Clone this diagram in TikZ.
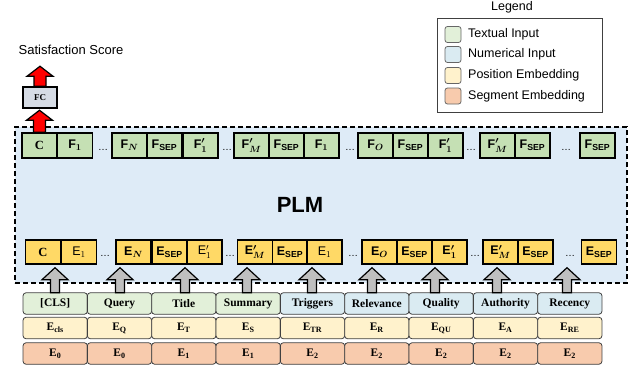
\documentclass[tikz,border=0pt]{standalone}
\usepackage{amsmath}
\usepackage{fontspec}
\setmainfont{Liberation Sans}
\newfontfamily\boxfont{Liberation Serif}
\usetikzlibrary{arrows.meta}
\definecolor{textgreen}{HTML}{E2F0D9}
\definecolor{fgreen}{HTML}{C5E0B4}
\definecolor{numblue}{HTML}{DAEBF2}
\definecolor{plmblue}{HTML}{DEEBF7}
\definecolor{posyellow}{HTML}{FFF2CC}
\definecolor{egold}{HTML}{FFD966}
\definecolor{segorange}{HTML}{F8CBAD}
\definecolor{fcgray}{HTML}{D6DCE5}
\definecolor{arrgray}{HTML}{BFBFBF}
\tikzset{fbox/.style = {draw, line width=1.5pt, fill=fgreen, minimum width=35pt, minimum height=25pt, inner sep=0pt, font=\boxfont\fontsize{12.5}{14}\selectfont\bfseries\boldmath}}
\tikzset{ebox/.style = {fbox, fill=egold, minimum height=24pt}}
\tikzset{lightebox/.style = {ebox, font=\boxfont\fontsize{12.5}{14}\selectfont\unboldmath}}
\tikzset{inbox/.style = {draw=black!75, line width=0.8pt, rounded corners=3pt, minimum width=64.3pt, minimum height=21.5pt, inner sep=0pt, font=\boxfont\fontsize{11.5}{13}\selectfont\bfseries}}
\tikzset{dots/.style = {inner sep=0pt, font=\fontsize{10}{12}\selectfont}}
\tikzset{swatch/.style = {draw=black!60, line width=0.8pt, rounded corners=2.5pt, minimum size=16pt, inner sep=0pt}}
\tikzset{legtext/.style = {anchor=west, inner sep=0pt, font=\fontsize{12.5}{14}\selectfont}}
\tikzset{pics/blockup/.style n args={4}{code={
  \draw[pic actions] (-#4,0) -- (-#4,-#1+#2) -- (-#3,-#1+#2) -- (0,-#1)
    -- (#3,-#1+#2) -- (#4,-#1+#2) -- (#4,0) -- cycle;}}}

\begin{document}
\begin{tikzpicture}[x=1pt, y=-1pt]
                \useasboundingbox (0,0) rectangle (641,370);
                % PLM block
                \node[draw, dashed, dash pattern=on 5pt off 3pt, line width=1.5pt, fill=plmblue, minimum width=612pt, minimum height=156pt] (plm) at (321,205) {};
                \node[font=\fontsize{22}{24}\selectfont\bfseries] (plmlabel) at (300,205) {PLM};
                % output
                \node[draw, line width=1.5pt, fill=fcgray, minimum width=34pt, minimum height=21pt, font=\boxfont\fontsize{9}{10}\selectfont\bfseries] (fc) at (40,97.5) {FC};
                \node[font=\fontsize{13}{15}\selectfont] (score) at (71,50) {Satisfaction Score};
                % top row
                \node[fbox] (fC) at (39.5,145.5) {C};
                \node[fbox] (fa) at (75,145.5) {$\mathrm{F}_{1}$};
                \node[dots] (fda) at (103,150) {\dots};
                \node[fbox] (fN) at (129.5,145.5) {$\mathrm{F}_{N}$};
                \node[fbox] (fsepa) at (164.5,145.5) {$\mathrm{F}_{\mathrm{SEP}}$};
                \node[fbox] (fpa) at (200.5,145.5) {$\mathrm{F}'_{1}$};
                \node[dots] (fdb) at (227,150) {\dots};
                \node[fbox] (fMa) at (251.5,145.5) {$\mathrm{F}'_{M}$};
                \node[fbox] (fsepb) at (286.5,145.5) {$\mathrm{F}_{\mathrm{SEP}}$};
                \node[fbox] (fb) at (321.5,145.5) {$\mathrm{F}_{1}$};
                \node[dots] (fdc) at (350,150) {\dots};
                \node[fbox] (fO) at (375.5,145.5) {$\mathrm{F}_{O}$};
                \node[fbox] (fsepc) at (410.5,145.5) {$\mathrm{F}_{\mathrm{SEP}}$};
                \node[fbox] (fpb) at (445.5,145.5) {$\mathrm{F}'_{1}$};
                \node[dots] (fdd) at (471,150) {\dots};
                \node[fbox] (fMb) at (497.5,145.5) {$\mathrm{F}'_{M}$};
                \node[fbox] (fsepd) at (532.5,145.5) {$\mathrm{F}_{\mathrm{SEP}}$};
                \node[dots] (fde) at (566,150) {\dots};
                \node[fbox] (fsepe) at (597.5,145.5) {$\mathrm{F}_{\mathrm{SEP}}$};
                % bottom row
                \node[ebox] (eC) at (43,252) {C};
                \node[lightebox] (ea) at (79,252) {$\mathrm{E}_{1}$};
                \node[dots] (eda) at (105,256) {\dots};
                \node[ebox] (eN) at (133.5,252) {$\mathrm{E}_{N}$};
                \node[ebox] (esepa) at (169.5,252) {$\mathrm{E}_{\mathrm{SEP}}$};
                \node[lightebox] (epa) at (204.5,252) {$\mathrm{E}'_{1}$};
                \node[dots] (edb) at (230,256) {\dots};
                \node[ebox] (eMa) at (255,252) {$\mathrm{E}'_{M}$};
                \node[ebox] (esepb) at (290,252) {$\mathrm{E}_{\mathrm{SEP}}$};
                \node[lightebox] (eb) at (324.5,252) {$\mathrm{E}_{1}$};
                \node[dots] (edc) at (353,256) {\dots};
                \node[ebox] (eO) at (379.5,252) {$\mathrm{E}_{O}$};
                \node[ebox] (esepc) at (414.5,252) {$\mathrm{E}_{\mathrm{SEP}}$};
                \node[ebox] (epb) at (449.5,252) {$\mathrm{E}'_{1}$};
                \node[dots] (edd) at (475,256) {\dots};
                \node[ebox] (eMb) at (500.5,252) {$\mathrm{E}'_{M}$};
                \node[ebox] (esepd) at (535.5,252) {$\mathrm{E}_{\mathrm{SEP}}$};
                \node[dots] (ede) at (570,256) {\dots};
                \node[ebox] (esepe) at (599,252) {$\mathrm{E}_{\mathrm{SEP}}$};
                % inputs
                \node[inbox, fill=textgreen] (cls) at (55.2,303.5) {[CLS]};
                \node[inbox, fill=textgreen] (query) at (119.5,303.5) {Query};
                \node[inbox, fill=textgreen] (title) at (183.8,303.5) {Title};
                \node[inbox, fill=textgreen] (summary) at (248.2,303.5) {Summary};
                \node[inbox, fill=numblue] (triggers) at (312.5,303.5) {Triggers};
                \node[inbox, fill=numblue] (relevance) at (376.8,303.5) {Relevance};
                \node[inbox, fill=numblue] (quality) at (441.2,303.5) {Quality};
                \node[inbox, fill=numblue] (authority) at (505.5,303.5) {Authority};
                \node[inbox, fill=numblue] (recency) at (569.8,303.5) {Recency};
                \node[inbox, fill=posyellow] (pcls) at (55.2,328) {E\textsubscript{cls}};
                \node[inbox, fill=posyellow] (pquery) at (119.5,328) {E\textsubscript{Q}};
                \node[inbox, fill=posyellow] (ptitle) at (183.8,328) {E\textsubscript{T}};
                \node[inbox, fill=posyellow] (psummary) at (248.2,328) {E\textsubscript{S}};
                \node[inbox, fill=posyellow] (ptriggers) at (312.5,328) {E\textsubscript{TR}};
                \node[inbox, fill=posyellow] (prelevance) at (376.8,328) {E\textsubscript{R}};
                \node[inbox, fill=posyellow] (pquality) at (441.2,328) {E\textsubscript{QU}};
                \node[inbox, fill=posyellow] (pauthority) at (505.5,328) {E\textsubscript{A}};
                \node[inbox, fill=posyellow] (precency) at (569.8,328) {E\textsubscript{RE}};
                \node[inbox, fill=segorange] (scls) at (55.2,353.5) {E\textsubscript{0}};
                \node[inbox, fill=segorange] (squery) at (119.5,353.5) {E\textsubscript{0}};
                \node[inbox, fill=segorange] (stitle) at (183.8,353.5) {E\textsubscript{1}};
                \node[inbox, fill=segorange] (ssummary) at (248.2,353.5) {E\textsubscript{1}};
                \node[inbox, fill=segorange] (striggers) at (312.5,353.5) {E\textsubscript{2}};
                \node[inbox, fill=segorange] (srelevance) at (376.8,353.5) {E\textsubscript{2}};
                \node[inbox, fill=segorange] (squality) at (441.2,353.5) {E\textsubscript{2}};
                \node[inbox, fill=segorange] (sauthority) at (505.5,353.5) {E\textsubscript{2}};
                \node[inbox, fill=segorange] (srecency) at (569.8,353.5) {E\textsubscript{2}};
                % block arrows
                \pic[fill=red, line width=1.2pt] at (fC.north) {blockup={22}{10}{13}{6}};
                \pic[fill=red, line width=1.2pt] at (fc.north) {blockup={20}{10}{13}{6}};
                \pic[fill=arrgray, line width=1.2pt] at (55,292.7) {blockup={25}{12}{13}{4.5}};
                \pic[fill=arrgray, line width=1.2pt] at (120,292.7) {blockup={25}{12}{13}{4.5}};
                \pic[fill=arrgray, line width=1.2pt] at (185,292.7) {blockup={25}{12}{13}{4.5}};
                \pic[fill=arrgray, line width=1.2pt] at (247,292.7) {blockup={25}{12}{13}{4.5}};
                \pic[fill=arrgray, line width=1.2pt] at (312,292.7) {blockup={25}{12}{13}{4.5}};
                \pic[fill=arrgray, line width=1.2pt] at (372,292.7) {blockup={25}{12}{13}{4.5}};
                \pic[fill=arrgray, line width=1.2pt] at (435,292.7) {blockup={25}{12}{13}{4.5}};
                \pic[fill=arrgray, line width=1.2pt] at (497,292.7) {blockup={25}{12}{13}{4.5}};
                \pic[fill=arrgray, line width=1.2pt] at (567,292.7) {blockup={25}{12}{13}{4.5}};
                % legend
                \node[font=\fontsize{12.5}{14}\selectfont] (legtitle) at (512,7) {Legend};
                \node[draw=black!75, line width=0.8pt, minimum width=165pt, minimum height=94pt] (legend) at (519.5,65) {};
                \node[swatch, fill=textgreen] (lgreen) at (453,34.5) {};
                \node[swatch, fill=numblue] (lblue) at (453,54.5) {};
                \node[swatch, fill=posyellow] (lyellow) at (453,75.5) {};
                \node[swatch, fill=segorange] (lorange) at (453,96) {};
                \node[legtext] (tgreen) at (468,34.5) {Textual Input};
                \node[legtext] (tblue) at (468,54.5) {Numerical Input};
                \node[legtext] (tyellow) at (468,75.5) {Position Embedding};
                \node[legtext] (torange) at (468,96) {Segment Embedding};
            \end{tikzpicture}
\end{document}
